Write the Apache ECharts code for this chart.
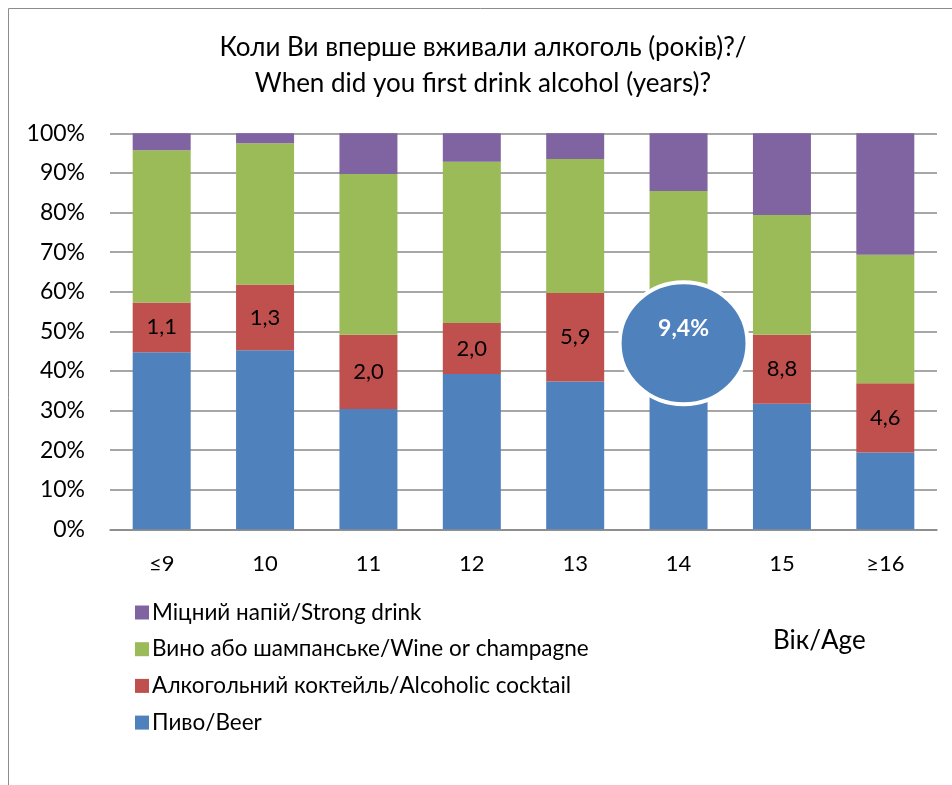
<!DOCTYPE html>
<html><head><meta charset="utf-8">
<script src="https://cdn.jsdelivr.net/npm/echarts@6/dist/echarts.min.js"></script>
<style>html,body{margin:0;padding:0;background:#fff}#c{width:952px;height:785px}</style>
</head><body><div id="c"></div>
<script>
const categories = ['≤9','10','11','12','13','14','15','≥16'];
const beer = [44.7, 45.2, 30.4, 39.2, 37.3, 36.0, 31.7, 19.4];
const cocktail = [12.6, 16.6, 18.7, 12.9, 22.4, 20.0, 17.4, 17.5];
const wine = [38.4, 35.7, 40.6, 40.7, 33.8, 29.4, 30.3, 32.4];
const strong = [4.3, 2.5, 10.3, 7.2, 6.5, 14.6, 20.6, 30.7];
const cocktailLabels = [1.1, 1.3, 2.0, 2.0, 5.9, null, 8.8, 4.6];
const calloutCategory = '14';
const calloutValue = 47;
const calloutText = '9,4%';
const seriesNames = ['Пиво/Beer','Алкогольний коктейль/Alcoholic cocktail','Вино або шампанське/Wine or champagne','Міцний напій/Strong drink'];
const yTicks = [0,10,20,30,40,50,60,70,80,90,100];

const FONT = 'Lato, "Open Sans", sans-serif';
const chart = echarts.init(document.getElementById('c'));
const mk = (name, data, color, extra) => Object.assign({
  name, type: 'bar', stack: 'all', data, barWidth: 58,
  itemStyle: {color}, emphasis: {disabled: true}
}, extra || {});

chart.setOption({
  animation: false,
  textStyle: {fontFamily: FONT},
  title: {
    text: 'Коли Ви вперше вживали алкоголь (років)?/\nWhen did you first drink alcohol (years)?',
    left: 478, top: 25, textAlign: 'center',
    textStyle: {fontFamily: FONT, fontSize: 26, fontWeight: 'normal', color: '#000', lineHeight: 36}
  },
  graphic: [
    {type: 'rect', shape: {x: 8.5, y: 8.5, width: 1200, height: 1200}, style: {fill: 'none', stroke: '#8c8c8c', lineWidth: 1}, silent: true},
    {type: 'text', left: 773, top: 628, style: {text: 'Вік/Age', font: '26px ' + FONT, fill: '#000'}}
  ],
  legend: {
    orient: 'vertical', left: 130, top: 596, itemGap: 13.7, itemWidth: 14, itemHeight: 14,
    icon: 'rect',
    data: [seriesNames[3], seriesNames[2], seriesNames[1], seriesNames[0]],
    textStyle: {fontFamily: FONT, fontSize: 22.5, color: '#000', padding: [0,0,0,-2]},
    selectedMode: false
  },
  grid: {left: 110, right: 15, top: 133.3, bottom: 255.7, containLabel: false},
  xAxis: {
    type: 'category', data: categories,
    axisLine: {show: true, lineStyle: {color: '#888', width: 1.5}},
    axisTick: {show: false},
    axisLabel: {fontSize: 22, color: '#000', margin: 24, fontFamily: FONT}
  },
  yAxis: {
    type: 'value', min: 0, max: 100, interval: 10,
    axisLine: {show: false}, axisTick: {show: false},
    splitLine: {lineStyle: {color: '#888', width: 1.5}},
    axisLabel: {fontSize: 23, color: '#000', margin: 25, fontFamily: FONT, formatter: v => v + '%'}
  },
  series: [
    mk(seriesNames[0], beer, '#4f81bd', {barCategoryGap: '44%'}),
    mk(seriesNames[1], cocktail, '#c0504d', {
      label: {show: true, position: 'inside', fontSize: 22, color: '#000', fontFamily: FONT,
        formatter: p => cocktailLabels[p.dataIndex] == null ? '' : cocktailLabels[p.dataIndex].toFixed(1).replace('.', ',')}
    }),
    mk(seriesNames[2], wine, '#9bbb59'),
    mk(seriesNames[3], strong, '#8064a2', {
      markPoint: {
        silent: true,
        data: [{coord: [calloutCategory, calloutValue], value: calloutText}],
        symbol: 'circle', symbolSize: [128, 122], symbolOffset: [5, 0],
        itemStyle: {color: '#4f81bd', borderColor: '#fff', borderWidth: 4},
        label: {show: true, formatter: calloutText, color: '#fff', fontSize: 23, fontWeight: 'bold', fontFamily: FONT, offset: [0, -15]}
      }
    })
  ]
});
</script></body></html>
